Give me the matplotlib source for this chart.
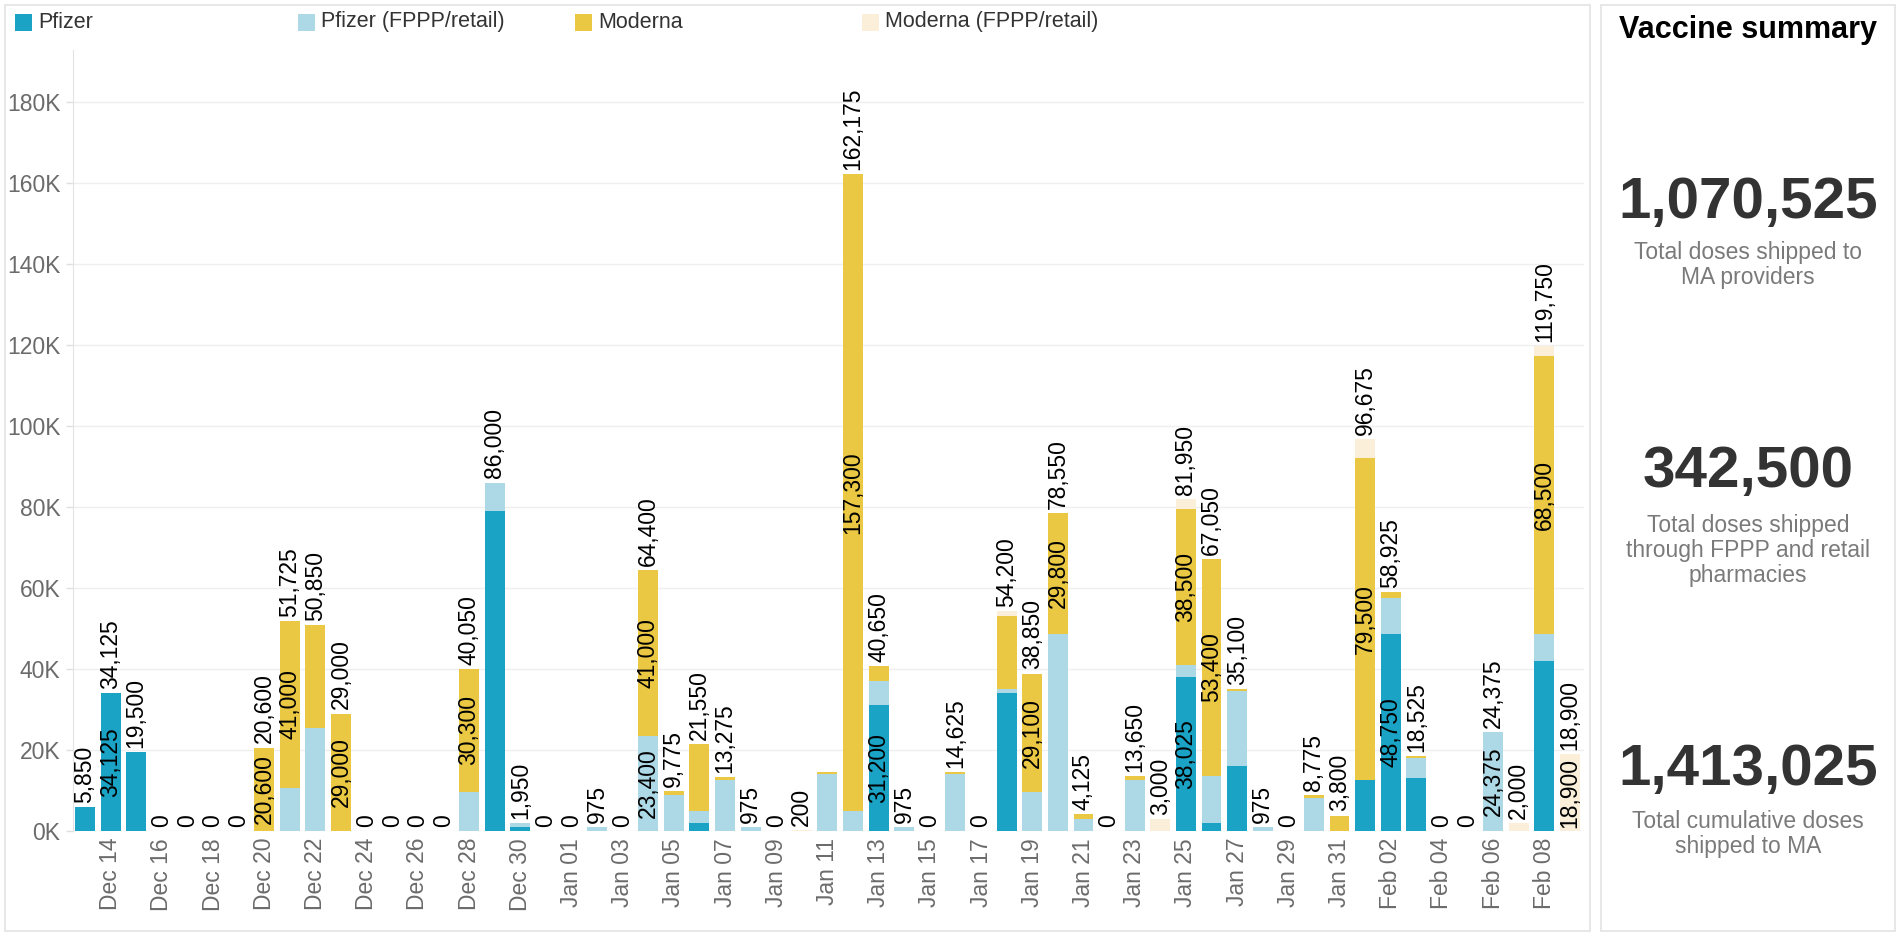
import pandas as pd
import matplotlib
matplotlib.use("Agg")
import matplotlib.pyplot as plt
from matplotlib.patches import Rectangle
from matplotlib import font_manager

plt.rcParams['font.family'] = ['Liberation Sans', 'DejaVu Sans']

# daily shipments, Dec 13 2020 - Feb 09 2021
dates = pd.date_range("2020-12-13", "2021-02-09", freq="D")

pfizer = [5850, 34125, 19500, 0, 0, 0, 0, 0, 0, 0,
          0, 0, 0, 0, 0, 0, 79000, 975, 0, 0,
          0, 0, 0, 0, 1950, 0, 0, 0, 0, 0,
          0, 31200, 0, 0, 0, 0, 34125, 0, 0, 0,
          0, 0, 0, 38025, 1950, 16100, 0, 0, 0, 0,
          12675, 48750, 13050, 0, 0, 0, 0, 42000, 0]
pfizer_fppp = [0, 0, 0, 0, 0, 0, 0, 0, 10725, 25350,
               0, 0, 0, 0, 0, 9750, 7000, 975, 0, 0,
               975, 0, 23400, 8775, 2925, 12675, 975, 0, 0, 14000,
               4875, 5850, 975, 0, 14025, 0, 975, 9750, 48750, 2925,
               0, 12675, 0, 2925, 11700, 18425, 975, 0, 8175, 0,
               0, 8775, 4875, 0, 0, 24375, 0, 6750, 0]
moderna = [0, 0, 0, 0, 0, 0, 0, 20600, 41000, 25500,
           29000, 0, 0, 0, 0, 30300, 0, 0, 0, 0,
           0, 0, 41000, 1000, 16675, 600, 0, 0, 0, 600,
           157300, 3600, 0, 0, 600, 0, 18000, 29100, 29800, 1200,
           0, 975, 0, 38500, 53400, 575, 0, 0, 600, 3800,
           79500, 1400, 600, 0, 0, 0, 0, 68500, 0]
moderna_fppp = [0, 0, 0, 0, 0, 0, 0, 0, 0, 0,
                0, 0, 0, 0, 0, 0, 0, 0, 0, 0,
                0, 0, 0, 0, 0, 0, 0, 0, 200, 0,
                0, 0, 0, 0, 0, 0, 1100, 0, 0, 0,
                0, 0, 3000, 2500, 0, 0, 0, 0, 0, 0,
                4500, 0, 0, 0, 0, 0, 2000, 2500, 18900]

series_names = ["Pfizer", "Pfizer (FPPP/retail)", "Moderna", "Moderna (FPPP/retail)"]
colors = ["#1ba3c6", "#add8e6", "#ebc844", "#fcefd9"]

# segment labels that show inside the bars: (day index, series index)
inner_labels = [(1, 0), (7, 2), (8, 2), (10, 2), (15, 2), (22, 1), (22, 2),
                (30, 2), (31, 0), (37, 2), (38, 2), (43, 0), (43, 2), (44, 2),
                (50, 2), (51, 0), (55, 1), (57, 2), (58, 3)]
hidden_totals = [29]

summary_values = ["1,070,525", "342,500", "1,413,025"]
summary_texts = ["Total doses shipped to\nMA providers",
                 "Total doses shipped\nthrough FPPP and retail\npharmacies",
                 "Total cumulative doses\nshipped to MA"]

W, H = 1897, 936


def fx(px):
    return px / W


def fy(py):
    return 1 - py / H


# narrow bold face for the big numbers if it is there
names = {f.name for f in font_manager.fontManager.ttflist}
if "Liberation Sans Narrow" in names:
    big_family, big_size = ["Liberation Sans Narrow"], 50
else:
    big_family, big_size = ["Liberation Sans"], 42

fig = plt.figure(figsize=(W / 100, H / 100), dpi=100)
ax = fig.add_axes([fx(73), fy(831), fx(1584) - fx(73), fy(50) - fy(831)])

df = pd.DataFrame({"date": dates, "s0": pfizer, "s1": pfizer_fppp,
                   "s2": moderna, "s3": moderna_fppp})
x = list(range(len(df)))
bottom = [0] * len(df)
for i, col in enumerate(["s0", "s1", "s2", "s3"]):
    vals = df[col].tolist()
    ax.bar(x, vals, width=0.78, bottom=bottom, color=colors[i], linewidth=0, zorder=2)
    for d, s in inner_labels:
        if s == i:
            ax.text(d, bottom[d] + vals[d] / 2, f"{vals[d]:,}", rotation=90,
                    ha="center", va="center", fontsize=16.5, color="black", zorder=3)
    bottom = [b + v for b, v in zip(bottom, vals)]

# totals on top
for d, total in enumerate(bottom):
    if d in hidden_totals:
        continue
    ax.annotate(f"{total:,}", (d, total), xytext=(0, 3), textcoords="offset points",
                rotation=90, ha="center", va="bottom", fontsize=16.5, color="black", zorder=3)

ax.set_xlim(-0.47, 58.55)
ax.set_ylim(0, 192800)
ax.set_yticks(range(0, 180001, 20000))
ax.set_yticklabels([f"{v // 1000}K" for v in range(0, 180001, 20000)])
ax.set_xticks(x[1::2])
ax.set_xticklabels([d.strftime("%b %d") for d in dates[1::2]], rotation=90)
ax.tick_params(axis="x", length=0, pad=5, labelsize=16.5, labelcolor="#6b6b6b")
ax.tick_params(axis="y", length=5, width=1, color="#e0e0e0", pad=4,
               labelsize=16.5, labelcolor="#6b6b6b")
ax.grid(axis="y", color="#efefef", linewidth=1, zorder=0)
ax.set_axisbelow(True)
for side in ["top", "right", "bottom"]:
    ax.spines[side].set_visible(False)
ax.spines["left"].set_color("#e3e3e3")

# panel borders
fig.add_artist(Rectangle((fx(5), fy(931)), fx(1590) - fx(5), fy(5) - fy(931),
                         transform=fig.transFigure, fill=False, edgecolor="#e3e3e3", lw=1.2))
fig.add_artist(Rectangle((fx(1601), fy(931)), fx(1895) - fx(1601), fy(5) - fy(931),
                         transform=fig.transFigure, fill=False, edgecolor="#e3e3e3", lw=1.2))

# legend
legend_x = [15, 298, 575, 862]
for lx, name, c in zip(legend_x, series_names, colors):
    fig.add_artist(Rectangle((fx(lx), fy(31)), fx(17), 17 / H,
                             transform=fig.transFigure, color=c, lw=0))
    fig.text(fx(lx + 23), fy(22), name, ha="left", va="center", fontsize=15.5, color="#333333")

# summary panel
cx = fx(1748)
fig.text(cx, fy(30), "Vaccine summary", ha="center", va="center",
         fontsize=22, fontweight="bold", color="black")
for val, txt, yv, yt in zip(summary_values, summary_texts, [203, 472, 770], [241, 514, 810]):
    fig.text(cx, fy(yv), val, ha="center", va="center", fontsize=big_size,
             family=big_family, fontweight="bold", color="#333333")
    fig.text(cx, fy(yt), txt, ha="center", va="top", fontsize=16.5,
             color="#7a7a7a", linespacing=1.1)

fig.savefig("out.png", dpi=100)
